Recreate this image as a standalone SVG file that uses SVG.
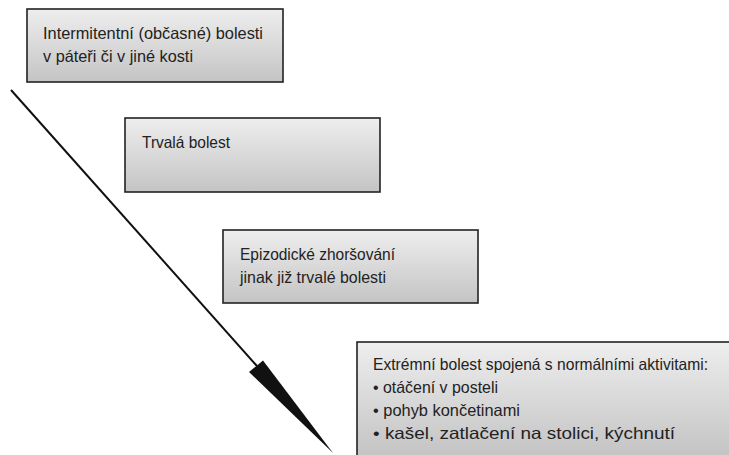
<svg xmlns="http://www.w3.org/2000/svg" width="729" height="455" viewBox="0 0 729 455">
<defs>
<linearGradient id="g" x1="0" y1="0" x2="0" y2="1">
<stop offset="0" stop-color="#eeeeee"/>
<stop offset="1" stop-color="#c4c4c4"/>
</linearGradient>
<linearGradient id="g4" x1="0" y1="342" x2="0" y2="455" gradientUnits="userSpaceOnUse">
<stop offset="0" stop-color="#eeeeee"/>
<stop offset="1" stop-color="#c4c4c4"/>
</linearGradient>
</defs>
<style>
.box{fill:url(#g);stroke:#222;stroke-width:1.6}
.t{font-family:"Liberation Sans",Arial,sans-serif;font-size:16.5px;fill:#222}
</style>
<rect width="729" height="455" fill="#fff"/>
<g id="connectors">
<line x1="11" y1="90" x2="257" y2="366" stroke="#111" stroke-width="2"/>
<polygon points="249,372 263,360.5 333,453" fill="#111"/>
</g>
<g id="node1">
<rect class="box" x="27" y="9" width="256" height="73"/>
<text class="t" x="43" y="39" textLength="220" lengthAdjust="spacingAndGlyphs">Intermitentní (občasné) bolesti</text>
<text class="t" x="43" y="62" textLength="150" lengthAdjust="spacingAndGlyphs">v páteři či v jiné kosti</text>
</g>
<g id="node2">
<rect class="box" x="125" y="118" width="255" height="74"/>
<text class="t" x="142" y="148" textLength="88" lengthAdjust="spacingAndGlyphs">Trvalá bolest</text>
</g>
<g id="node3">
<rect class="box" x="223" y="230" width="255" height="73"/>
<text class="t" x="240" y="260" textLength="155" lengthAdjust="spacingAndGlyphs">Epizodické zhoršování</text>
<text class="t" x="240" y="283" textLength="146" lengthAdjust="spacingAndGlyphs">jinak již trvalé bolesti</text>
</g>
<g id="node4">
<rect x="357" y="342" width="390" height="130" fill="url(#g4)" stroke="#222" stroke-width="1.6"/>
<text class="t" x="373" y="370" textLength="335" lengthAdjust="spacingAndGlyphs">Extrémní bolest spojená s normálními aktivitami:</text>
<text class="t" x="373" y="393" textLength="125" lengthAdjust="spacingAndGlyphs">• otáčení v posteli</text>
<text class="t" x="373" y="416" textLength="147" lengthAdjust="spacingAndGlyphs">• pohyb končetinami</text>
<text class="t" x="373" y="439" textLength="302" lengthAdjust="spacingAndGlyphs">• kašel, zatlačení na stolici, kýchnutí</text>
</g>
</svg>
